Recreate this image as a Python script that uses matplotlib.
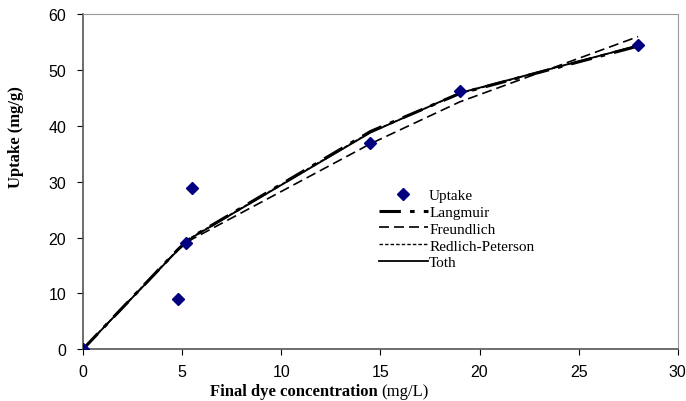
import matplotlib.pyplot as plt

plt.rcParams['font.family'] = 'Liberation Sans'

# measured points
conc = [0, 4.8, 5.2, 5.5, 14.5, 19, 28]
uptake = [0, 9, 19, 28.8, 37, 46.2, 54.5]

# model predictions at the same concentrations
langmuir = [0, 17.9, 19.2, 20.1, 39.0, 45.8, 54.3]
freundlich = [0, 17.9, 18.9, 19.7, 36.8, 44.3, 56.0]
redlich = [0, 17.9, 19.2, 20.1, 38.9, 45.8, 54.4]
toth = [0, 17.8, 19.1, 20.0, 38.8, 45.9, 54.4]

fig = plt.figure(figsize=(6.86, 4.02), dpi=100)
ax = fig.add_axes([0.121, 0.129, 0.867, 0.833])

ax.plot(conc, uptake, 'D', color='#000080', ms=6, label='Uptake', zorder=5)
ax.plot(conc, langmuir, color='black', lw=2.2, dashes=(7, 3, 1.5, 3), label='Langmuir')
ax.plot(conc, freundlich, color='black', lw=1.2, dashes=(6, 3), label='Freundlich')
ax.plot(conc, redlich, color='black', lw=1.0, dashes=(2.5, 1.5), label='Redlich-Peterson')
ax.plot(conc, toth, color='black', lw=1.3, label='Toth')

ax.set_xlim(0, 30)
ax.set_ylim(0, 60)
ax.set_xticks(range(0, 31, 5))
ax.set_yticks(range(0, 61, 10))
ax.tick_params(direction='out', length=4, labelsize=11.5)
ax.tick_params(axis='x', pad=7)
ax.tick_params(axis='y', pad=8)

for s in ['top', 'right']:
    ax.spines[s].set_color('#999999')
for s in ['left', 'bottom']:
    ax.spines[s].set_color('#555555')
    ax.spines[s].set_linewidth(1.2)

ax.set_ylabel('Uptake (mg/g)', family='Liberation Serif', fontweight='bold',
              fontsize=12)
ax.yaxis.set_label_coords(-0.10, 0.635)

# x label: bold part + normal part
fig.text(0.551, 0.014, 'Final dye concentration', family='Liberation Serif',
         fontweight='bold', fontsize=12, ha='right', va='baseline')
fig.text(0.556, 0.014, '(mg/L)', family='Liberation Serif',
         fontsize=12, ha='left', va='baseline')

leg = ax.legend(loc='upper left', bbox_to_anchor=(371 / 686, 1 - 182 / 402),
                bbox_transform=fig.transFigure, frameon=False,
                prop={'family': 'Liberation Serif', 'size': 11},
                handlelength=3.2, handletextpad=0.1, labelspacing=0.2,
                borderpad=0)

fig.savefig('out.png', dpi=100)
